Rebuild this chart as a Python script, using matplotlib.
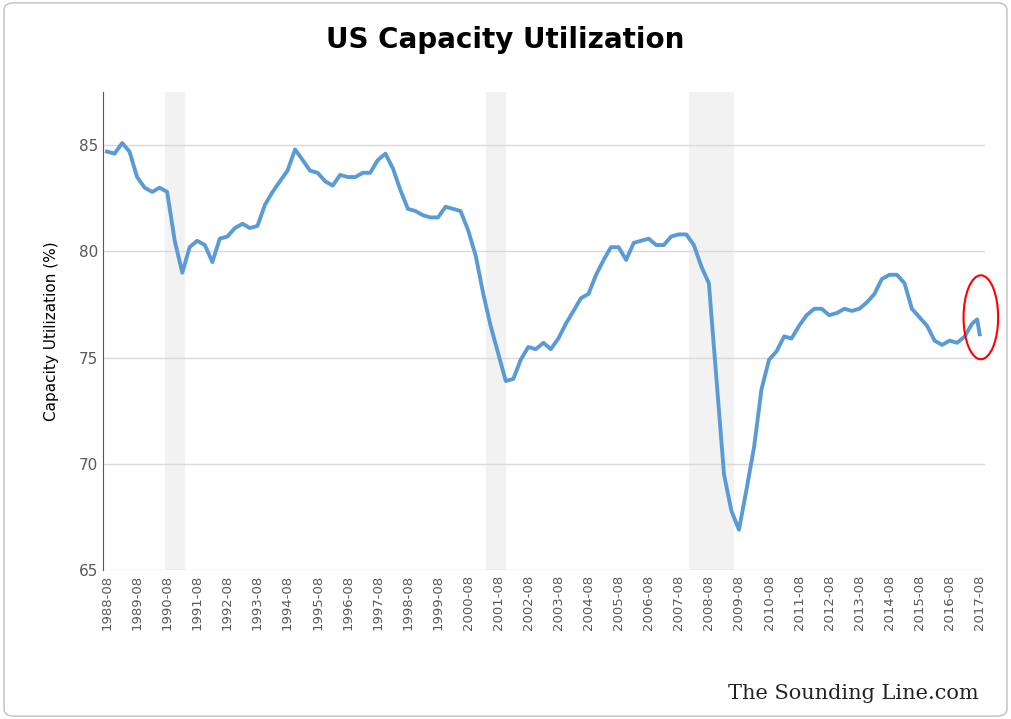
import numpy as np
import pandas as pd
import matplotlib.pyplot as plt
import matplotlib.dates as mdates
from matplotlib.patches import Ellipse, FancyBboxPatch

# quarterly readings: Aug, Nov, Feb, May per row (1988-08 .. 2017-05), then 2017-08
rows = [
    [84.7, 84.6, 85.1, 84.7],
    [83.5, 83.0, 82.8, 83.0],
    [82.8, 80.5, 79.0, 80.2],
    [80.5, 80.3, 79.5, 80.6],
    [80.7, 81.1, 81.3, 81.1],
    [81.2, 82.2, 82.8, 83.3],
    [83.8, 84.8, 84.3, 83.8],
    [83.7, 83.3, 83.1, 83.6],
    [83.5, 83.5, 83.7, 83.7],
    [84.3, 84.6, 83.9, 82.9],
    [82.0, 81.9, 81.7, 81.6],
    [81.6, 82.1, 82.0, 81.9],
    [81.0, 79.8, 78.0, 76.5],
    [75.2, 73.9, 74.0, 74.9],
    [75.5, 75.4, 75.7, 75.4],
    [75.9, 76.6, 77.2, 77.8],
    [78.0, 78.9, 79.6, 80.2],
    [80.2, 79.6, 80.4, 80.5],
    [80.6, 80.3, 80.3, 80.7],
    [80.8, 80.8, 80.3, 79.3],
    [78.5, 74.0, 69.5, 67.8],
    [66.9, 68.8, 70.8, 73.5],
    [74.9, 75.3, 76.0, 75.9],
    [76.5, 77.0, 77.3, 77.3],
    [77.0, 77.1, 77.3, 77.2],
    [77.3, 77.6, 78.0, 78.7],
    [78.9, 78.9, 78.5, 77.3],
    [76.9, 76.5, 75.8, 75.6],
    [75.8, 75.7, 76.0, 76.6],
]
last_value = [76.8, 76.1]  # 2017-07, 2017-08
values = [v for r in rows for v in r]
dates = list(pd.date_range('1988-08-01', periods=len(values), freq='3MS'))
dates += [pd.Timestamp('2017-07-01'), pd.Timestamp('2017-08-01')]
values += last_value

recessions = [('1990-07-01', '1991-03-01'), ('2001-03-01', '2001-11-01'), ('2007-12-01', '2009-06-01')]
tick_dates = pd.date_range('1988-08-01', '2017-08-01', freq='12MS')

fig = plt.figure(figsize=(10.11, 7.19), dpi=100)
fig.patches.append(FancyBboxPatch((0.004, 0.004), 0.992, 0.992, boxstyle='round,pad=0,rounding_size=0.01',
                                  transform=fig.transFigure, fill=False, ec='#bfbfbf', lw=1))
ax = fig.add_axes([0.102, 0.207, 0.872, 0.665])

for a, b in recessions:
    ax.axvspan(pd.Timestamp(a), pd.Timestamp(b), color='#f2f2f2', lw=0, zorder=0)

ax.plot(dates, values, color='#5b9bd5', lw=2.8, zorder=3)

ax.add_patch(Ellipse((mdates.date2num(pd.Timestamp('2017-08-15')), 76.9), 420, 3.95,
                     fill=False, ec='red', lw=1.5, zorder=4, clip_on=False))

ax.set_ylim(65, 87.5)
ax.set_yticks([65, 70, 75, 80, 85])
ax.set_xlim(pd.Timestamp('1988-06-15'), pd.Timestamp('2017-10-01'))
ax.set_xticks(tick_dates)
ax.set_xticklabels([d.strftime('%Y-%m') for d in tick_dates], rotation=90, fontsize=9.5, color='#595959')
ax.tick_params(axis='y', labelsize=11, labelcolor='#595959', length=0)
ax.tick_params(axis='x', length=0)
ax.grid(axis='y', color='#d9d9d9', lw=1)
ax.set_axisbelow(True)
for s in ['top', 'right', 'bottom']:
    ax.spines[s].set_visible(False)
ax.spines['left'].set_color('#595959')

ax.set_ylabel('Capacity Utilization (%)', fontsize=11, labelpad=14)
fig.text(0.5, 0.945, 'US Capacity Utilization', ha='center', va='center', fontsize=20, fontweight='bold')
fig.text(0.968, 0.035, 'The Sounding Line.com', ha='right', va='center', fontsize=15,
         family='DejaVu Serif', color='#222222')

fig.savefig('out.png', dpi=100)
